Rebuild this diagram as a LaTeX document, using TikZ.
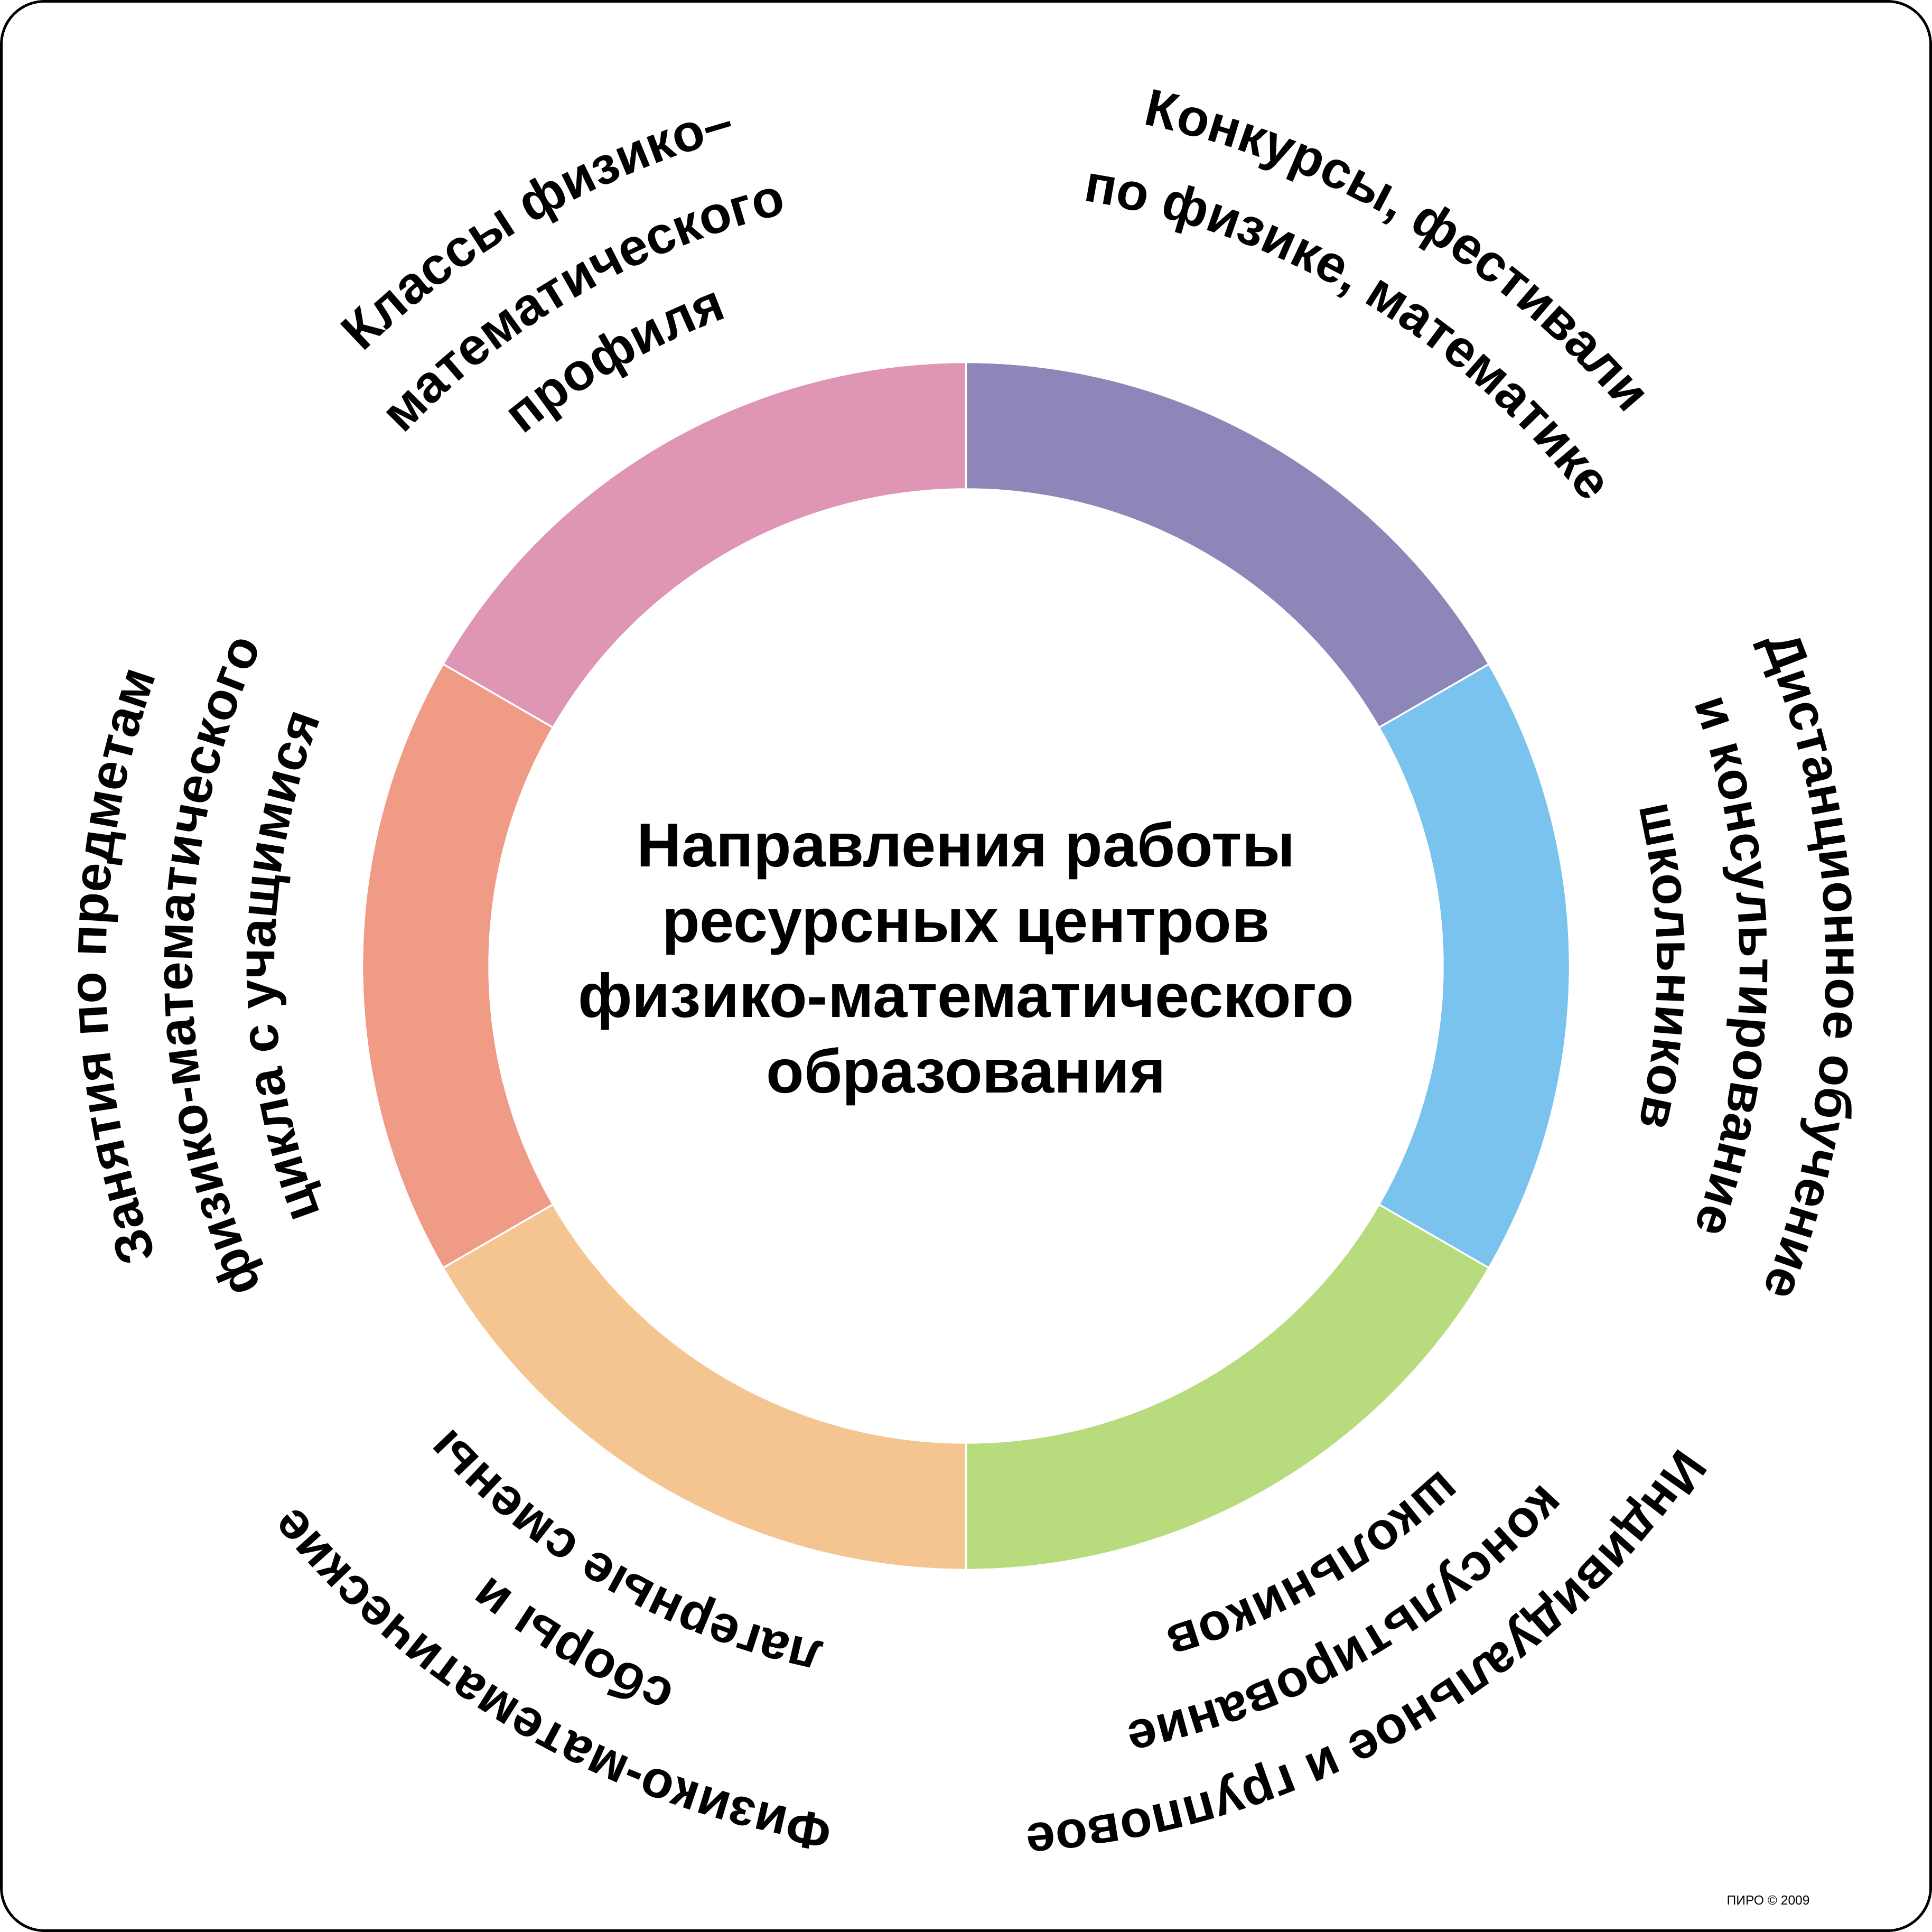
\documentclass[tikz,border=0pt]{standalone}
\usepackage{fontspec}
\setmainfont{Liberation Sans}
\usetikzlibrary{decorations.text}

\definecolor{segPurple}{HTML}{8D86B8}
\definecolor{segBlue}{HTML}{79C3EE}
\definecolor{segGreen}{HTML}{B8DC7D}
\definecolor{segOrange}{HTML}{F5C591}
\definecolor{segSalmon}{HTML}{F09B86}
\definecolor{segPink}{HTML}{DF96B4}

\newcommand{\curvefont}{\fontsize{12.1}{14}\selectfont\bfseries}

\tikzset{
  seg/.style={draw=white, line width=0.4pt},
  curved/.style={decorate, decoration={text along path, text align=center, text={|\curvefont|#1}}}
}

\begin{document}
\begin{tikzpicture}
        \useasboundingbox (-7.84,-7.84) rectangle (7.84,7.84);
        \draw[line width=0.6pt, rounded corners=0.35cm] (-7.829,-7.829) rectangle (7.829,7.829);

        \filldraw[seg, fill=segPurple] (30:4.90) arc[start angle=30, end angle=90, radius=4.90] -- (90:3.87) arc[start angle=90, end angle=30, radius=3.87] -- cycle;
        \filldraw[seg, fill=segPink] (90:4.90) arc[start angle=90, end angle=150, radius=4.90] -- (150:3.87) arc[start angle=150, end angle=90, radius=3.87] -- cycle;
        \filldraw[seg, fill=segSalmon] (150:4.90) arc[start angle=150, end angle=210, radius=4.90] -- (210:3.87) arc[start angle=210, end angle=150, radius=3.87] -- cycle;
        \filldraw[seg, fill=segOrange] (210:4.90) arc[start angle=210, end angle=270, radius=4.90] -- (270:3.87) arc[start angle=270, end angle=210, radius=3.87] -- cycle;
        \filldraw[seg, fill=segGreen] (270:4.90) arc[start angle=270, end angle=330, radius=4.90] -- (330:3.87) arc[start angle=330, end angle=270, radius=3.87] -- cycle;
        \filldraw[seg, fill=segBlue] (-30:4.90) arc[start angle=-30, end angle=30, radius=4.90] -- (30:3.87) arc[start angle=30, end angle=-30, radius=3.87] -- cycle;

        \node[align=center, font=\fontsize{14.3}{17.4}\selectfont\bfseries] (title) at (0,0.02)
            {Направления работы\\ресурсных центров\\физико-математического\\образования};

        % top left
        \path[curved={Классы физико–}] (205:6.98) arc[start angle=205, end angle=35, radius=6.98];
        \path[curved={математического}] (205:6.28) arc[start angle=205, end angle=35, radius=6.28];
        \path[curved={профиля}] (205:5.61) arc[start angle=205, end angle=35, radius=5.61];
        % top right
        \path[curved={Конкурсы, фестивали}] (144:6.98) arc[start angle=144, end angle=-26, radius=6.98];
        \path[curved={по физике, математике}] (144:6.28) arc[start angle=144, end angle=-26, radius=6.28];
        % right
        \path[curved={Дистанционное обучение}] (85:6.98) arc[start angle=85, end angle=-85, radius=6.98];
        \path[curved={и консультирование}] (85:6.28) arc[start angle=85, end angle=-85, radius=6.28];
        \path[curved={школьников}] (85:5.61) arc[start angle=85, end angle=-85, radius=5.61];
        % bottom right
        \path[curved={Индивидуальное и групповое}] (25:6.98) arc[start angle=25, end angle=-145, radius=6.98];
        \path[curved={консультирование}] (25:6.28) arc[start angle=25, end angle=-145, radius=6.28];
        \path[curved={школьников}] (25:5.61) arc[start angle=25, end angle=-145, radius=5.61];
        % bottom left
        \path[curved={Физико-математические}] (-35:6.98) arc[start angle=-35, end angle=-205, radius=6.98];
        \path[curved={сборы и}] (-35:6.28) arc[start angle=-35, end angle=-205, radius=6.28];
        \path[curved={лагерные смены}] (-35:5.61) arc[start angle=-35, end angle=-205, radius=5.61];
        % left
        \path[curved={Занятия по предметам}] (265:6.98) arc[start angle=265, end angle=95, radius=6.98];
        \path[curved={физико-математического}] (265:6.28) arc[start angle=265, end angle=95, radius=6.28];
        \path[curved={цикла с учащимися}] (265:5.61) arc[start angle=265, end angle=95, radius=5.61];

        \node[anchor=base west, inner sep=0pt, font=\fontsize{3}{4}\selectfont] (copy) at (6.168,-7.617) {ПИРО © 2009};
\end{tikzpicture}
\end{document}
